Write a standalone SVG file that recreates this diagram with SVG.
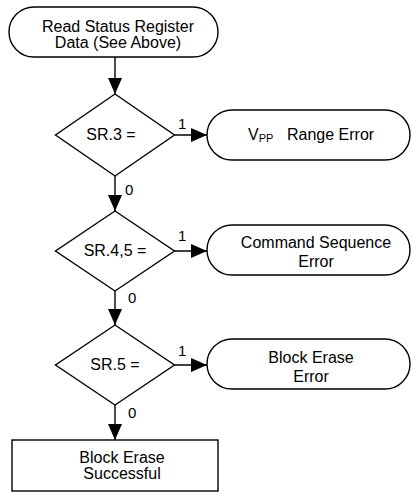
<svg xmlns="http://www.w3.org/2000/svg" width="413" height="493" viewBox="0 0 413 493">
<style>
.s{fill:#fff;stroke:#000;stroke-width:1.4}
.t{font-family:"Liberation Sans",Arial,sans-serif;font-size:16px;fill:#000;text-anchor:middle}
.l{font-family:"Liberation Sans",Arial,sans-serif;font-size:15px;fill:#000}
.c{stroke:#000;stroke-width:1.4;fill:none;marker-end:url(#ah)}
</style>
<defs>
<marker id="ah" markerUnits="userSpaceOnUse" markerWidth="16" markerHeight="14" refX="16" refY="7" orient="auto">
<path d="M0,0 L16,7 L0,14 Z" fill="#000"/>
</marker>
</defs>
<g id="connectors">
<line class="c" x1="115" y1="57" x2="115" y2="94"/>
<line class="c" x1="115" y1="176" x2="115" y2="211"/>
<line class="c" x1="115" y1="291" x2="115" y2="325"/>
<line class="c" x1="115" y1="405" x2="115" y2="440"/>
<line class="c" x1="174.5" y1="135" x2="207" y2="135"/>
<line class="c" x1="174.5" y1="251" x2="207" y2="251"/>
<line class="c" x1="174.5" y1="365" x2="207" y2="365"/>
<text class="l" x="125" y="195">0</text>
<text class="l" x="128" y="303">0</text>
<text class="l" x="128" y="418">0</text>
<text class="l" x="178" y="129">1</text>
<text class="l" x="178" y="241">1</text>
<text class="l" x="178" y="356">1</text>
</g>
<g id="start">
<rect class="s" x="9" y="7" width="209" height="50" rx="25" ry="25"/>
<text class="t" x="118" y="32">Read Status Register</text>
<text class="t" x="118" y="48">Data (See Above)</text>
</g>
<g id="d1">
<polygon class="s" points="115,94 174.5,135 115,176 55.5,135"/>
<text class="t" x="111" y="140">SR.3 =</text>
</g>
<g id="e1">
<rect class="s" x="207" y="110" width="203" height="50" rx="25" ry="25"/>
<text class="l" style="font-size:16px" x="248" y="140">V<tspan style="font-size:11px" dy="2">PP</tspan><tspan x="287" dy="-2">Range Error</tspan></text>
</g>
<g id="d2">
<polygon class="s" points="115,211 174.5,251 115,291 55.5,251"/>
<text class="t" x="115" y="256">SR.4,5 =</text>
</g>
<g id="e2">
<rect class="s" x="207" y="225" width="203" height="50" rx="25" ry="25"/>
<text class="t" x="316" y="248">Command Sequence</text>
<text class="t" x="316" y="267">Error</text>
</g>
<g id="d3">
<polygon class="s" points="115,325 174.5,365 115,405 55.5,365"/>
<text class="t" x="115" y="370">SR.5 =</text>
</g>
<g id="e3">
<rect class="s" x="207" y="339" width="203" height="50" rx="25" ry="25"/>
<text class="t" x="311" y="363">Block Erase</text>
<text class="t" x="311" y="382">Error</text>
</g>
<g id="ok">
<rect class="s" x="12" y="440" width="206" height="51"/>
<text class="t" x="122" y="463">Block Erase</text>
<text class="t" x="122" y="479">Successful</text>
</g>
</svg>
